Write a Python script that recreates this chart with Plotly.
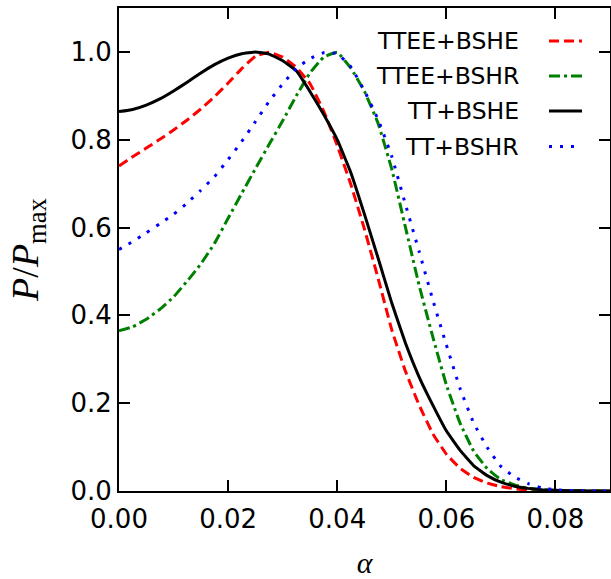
import plotly.graph_objects as go

alpha = [0.0, 0.0025, 0.005, 0.0075, 0.01, 0.0125, 0.015, 0.0175, 0.02, 0.0225,
         0.025, 0.0275, 0.03, 0.0325, 0.035, 0.0375, 0.04, 0.0425, 0.045, 0.0475,
         0.05, 0.0525, 0.055, 0.0575, 0.06, 0.0625, 0.065, 0.0675, 0.07, 0.0725,
         0.075, 0.0775, 0.08, 0.0825, 0.085, 0.0875, 0.09]

ttee_bshe = [0.740, 0.761, 0.781, 0.801, 0.822, 0.845, 0.870, 0.898, 0.929, 0.962,
             0.990, 0.999, 0.988, 0.965, 0.928, 0.866, 0.787, 0.698, 0.596, 0.484,
             0.367, 0.273, 0.196, 0.131, 0.084, 0.052, 0.031, 0.018, 0.010, 0.005,
             0.002, 0.001, 0.0005, 0.0002, 0.0001, 0.0, 0.0]

ttee_bshr = [0.365, 0.374, 0.391, 0.414, 0.442, 0.478, 0.517, 0.564, 0.621, 0.678,
             0.734, 0.789, 0.843, 0.900, 0.952, 0.988, 0.999, 0.963, 0.910, 0.837,
             0.733, 0.601, 0.469, 0.352, 0.242, 0.155, 0.091, 0.051, 0.026, 0.014,
             0.006, 0.003, 0.001, 0.0005, 0.0002, 0.0001, 0.0]

tt_bshe = [0.864, 0.869, 0.879, 0.893, 0.911, 0.931, 0.952, 0.971, 0.986, 0.996,
           1.000, 0.995, 0.980, 0.957, 0.910, 0.858, 0.800, 0.725, 0.630, 0.530,
           0.428, 0.337, 0.260, 0.196, 0.137, 0.093, 0.058, 0.035, 0.020, 0.011,
           0.006, 0.003, 0.0015, 0.0007, 0.0003, 0.0001, 0.0]

tt_bshr = [0.550, 0.568, 0.588, 0.609, 0.630, 0.656, 0.685, 0.716, 0.755, 0.796,
           0.841, 0.887, 0.927, 0.962, 0.985, 0.998, 0.996, 0.966, 0.911, 0.846,
           0.762, 0.653, 0.546, 0.436, 0.333, 0.234, 0.155, 0.099, 0.056, 0.032,
           0.017, 0.007, 0.003, 0.001, 0.0005, 0.0002, 0.0]

labels = ["TTEE+BSHE", "TTEE+BSHR", "TT+BSHE", "TT+BSHR"]
colors = ["#ff0000", "#008000", "#000000", "#0000ff"]
dashes = ["10px,5px", "11px,4px,3px,4px", "solid", "3px,8px"]
series = [ttee_bshe, ttee_bshr, tt_bshe, tt_bshr]

x_ticks = [0.0, 0.02, 0.04, 0.06, 0.08]
x_ticktext = ["0.00", "0.02", "0.04", "0.06", "0.08"]
y_ticks = [0.0, 0.2, 0.4, 0.6, 0.8, 1.0]
y_ticktext = ["0.0", "0.2", "0.4", "0.6", "0.8", "1.0"]

fig = go.Figure()
for name, ys, c, d in zip(labels, series, colors, dashes):
    fig.add_trace(go.Scatter(x=alpha, y=ys, mode="lines", name=name,
                             line=dict(color=c, width=3, dash=d, shape="spline", smoothing=0.3),
                             showlegend=False))

# manual legend (sample line to the right of the text, as in the original)
W, H = 491.0, 483.0
L, T = 119.0, 8.0
leg_text_right = (521 - L) / W
leg_line_x0 = (549 - L) / W
leg_line_x1 = (582 - L) / W
leg_rows = [41, 76, 111, 146.5]
shapes = []
annotations = []
for name, c, d, yr in zip(labels, colors, dashes, leg_rows):
    yp = 1 - (yr - T) / H
    annotations.append(dict(x=leg_text_right, y=yp, xref="paper", yref="paper",
                            text=name, showarrow=False, xanchor="right", yanchor="middle",
                            font=dict(family="DejaVu Sans", size=23.5, color="black")))
    shapes.append(dict(type="line", xref="paper", yref="paper",
                       x0=leg_line_x0, x1=leg_line_x1, y0=yp, y1=yp,
                       line=dict(color=c, width=3, dash=d)))

axis_common = dict(showline=True, linecolor="black", linewidth=2, mirror="ticks",
                   ticks="inside", ticklen=11, tickwidth=1.5, tickcolor="black",
                   showgrid=False, zeroline=False, automargin=False,
                   tickfont=dict(family="DejaVu Sans", size=26, color="black"))

fig.update_layout(
    width=611, height=579,
    margin=dict(l=119, r=1, t=8, b=88),
    plot_bgcolor="white", paper_bgcolor="white",
    xaxis=dict(range=[0, 0.09], tickvals=x_ticks, ticktext=x_ticktext,
               ticklabelstandoff=4,
               title=dict(text="<i>α</i>", font=dict(family="Liberation Serif", size=30, color="black"),
                          standoff=30),
               **axis_common),
    yaxis=dict(range=[0, 1.1], tickvals=y_ticks, ticktext=y_ticktext,
               ticklabelstandoff=0,
               title=dict(text="<i>P</i>/<i>P</i><sub>max</sub>",
                          font=dict(family="Liberation Serif", size=38, color="black"),
                          standoff=20),
               **axis_common),
    shapes=shapes,
    annotations=annotations,
)

fig.write_html("out.html", config={"displayModeBar": False},
               post_script="document.body.style.margin='0';document.body.style.overflow='hidden';")
